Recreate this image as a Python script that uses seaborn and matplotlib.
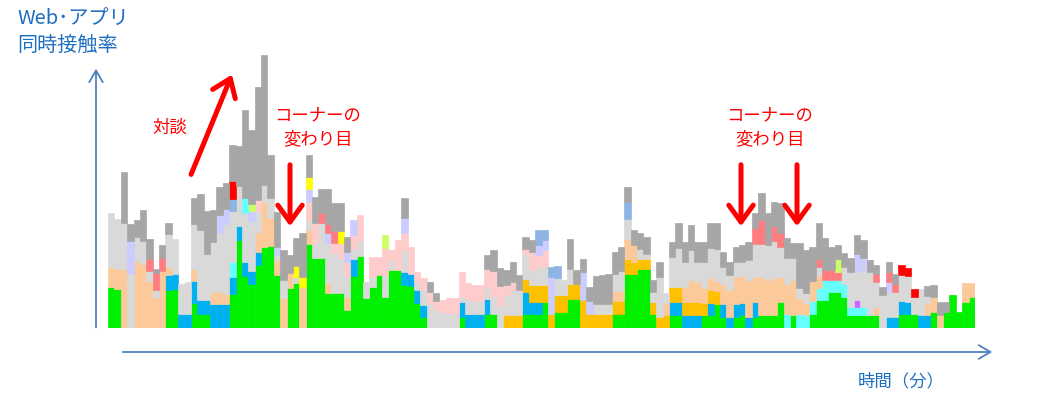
import matplotlib
matplotlib.use("Agg")
import matplotlib.pyplot as plt
import seaborn as sns
import pandas as pd

# segment heights per one-minute bin, bottom -> top (chart units)
green = [41, 39, 0, 0, 0, 0, 0, 0, 0, 38,
         39, 0, 0, 25, 14, 14, 0, 0, 0, 34,
         88, 52, 44, 63, 81, 82, 53, 0, 40, 45,
         0, 84, 70, 70, 35, 35, 35, 18, 52, 72,
         30, 41, 53, 31, 58, 58, 43, 42, 25, 11,
         0, 0, 0, 0, 0, 11, 0, 0, 0, 14,
         14, 0, 0, 0, 0, 14, 14, 14, 26, 0,
         16, 16, 29, 29, 0, 0, 0, 0, 0, 14,
         14, 54, 54, 59, 59, 14, 0, 0, 13, 13,
         0, 0, 0, 13, 13, 24, 11, 0, 11, 13,
         0, 11, 13, 13, 13, 26, 0, 13, 0, 0,
         14, 28, 28, 36, 36, 31, 13, 13, 13, 13,
         13, 0, 0, 0, 14, 14, 14, 0, 0, 16,
         0, 16, 33, 16, 26, 31]
blue = [0, 0, 0, 0, 0, 0, 0, 0, 0, 15,
        15, 14, 14, 22, 14, 14, 24, 24, 24, 17,
        14, 14, 13, 13, 0, 0, 0, 0, 0, 0,
        0, 0, 0, 0, 0, 0, 0, 0, 17, 0,
        0, 0, 0, 0, 0, 0, 13, 12, 13, 12,
        0, 0, 0, 0, 0, 15, 14, 14, 14, 15,
        0, 0, 0, 0, 0, 22, 12, 12, 0, 0,
        0, 0, 0, 0, 0, 0, 0, 0, 0, 0,
        0, 0, 0, 0, 0, 0, 0, 0, 13, 13,
        13, 13, 13, 0, 12, 0, 13, 11, 13, 12,
        11, 15, 0, 0, 0, 0, 0, 0, 0, 0,
        0, 0, 0, 0, 0, 0, 0, 0, 0, 0,
        0, 0, 11, 11, 13, 12, 0, 13, 13, 0,
        0, 0, 0, 0, 0, 0]
orange = [0] * 62 + [13, 13, 13, 13, 17, 17, 17, 14,
                     17, 17, 15, 15, 28, 14, 14, 14, 14, 13,
                     13, 15, 12, 10, 10, 12, 11, 13, 15, 15,
                     13, 13, 13, 12, 13, 13] + [0] * 40
peach = [20, 20, 59, 0, 67, 64, 47, 30, 57, 8,
         0, 0, 0, 12, 0, 0, 12, 12, 10, 0,
         0, 0, 0, 20, 45, 28, 15, 30, 15, 0,
         41, 14, 0, 0, 10, 0, 0, 13, 0, 0,
         0, 0, 0, 0, 0, 0, 0, 0, 0, 0,
         0, 0, 0, 0, 0, 0, 0, 0, 0, 0,
         0, 0, 0, 0, 0, 0, 0, 0, 0, 0,
         0, 0, 0, 0, 0, 0, 0, 0, 0, 10,
         10, 20, 17, 0, 0, 0, 0, 12, 0, 0,
         15, 22, 20, 15, 12, 10, 20, 27, 27, 27,
         37, 25, 38, 35, 37, 25, 30, 35, 16, 12,
         20, 12, 0, 0, 0, 0, 0, 0, 0, 0,
         8, 0, 0, 0, 0, 0, 0, 0, 11, 15,
         13, 0, 0, 0, 19, 14]
lgray = [54, 50, 46, 54, 24, 23, 10, 8, 0, 33,
         35, 30, 32, 45, 70, 46, 50, 60, 70, 51,
         40, 49, 50, 20, 17, 20, 5, 18, 0, 6,
         0, 10, 15, 35, 40, 40, 35, 20, 10, 15,
         16, 10, 0, 22, 10, 0, 22, 0, 8, 15,
         25, 18, 16, 15, 15, 5, 15, 13, 13, 12,
         18, 22, 20, 25, 25, 25, 15, 18, 18, 0,
         17, 15, 15, 0, 0, 0, 10, 10, 10, 17,
         20, 20, 0, 10, 5, 10, 40, 10, 30, 39,
         25, 30, 20, 26, 30, 32, 17, 15, 15, 14,
         20, 33, 33, 35, 37, 30, 26, 22, 10, 10,
         0, 9, 0, 0, 0, 17, 35, 28, 37, 43,
         25, 33, 25, 25, 26, 26, 17, 26, 8, 0,
         0, 0, 0, 0, 0, 0]
pink = [0] * 23 + [12, 0, 0, 0, 0, 0, 0,
                   0, 18, 20, 0, 0, 10, 15, 15, 14, 26,
                   0, 20, 18, 27, 10, 30, 17, 27, 10, 12,
                   11, 9, 12, 15, 15, 25, 16, 16, 16, 18,
                   25, 20, 10, 8, 0, 5, 18, 12, 17] + [0] * 67
gray = [0, 0, 51, 17, 17, 31, 20, 4, 13, 11,
        0, 0, 0, 26, 36, 43, 32, 28, 26, 36,
        40, 88, 74, 113, 130, 43, 35, 30, 18, 28,
        44, 22, 26, 24, 35, 28, 28, 15, 0, 0,
        0, 0, 0, 0, 0, 0, 20, 0, 0, 0,
        10, 8, 0, 0, 0, 0, 0, 0, 0, 14,
        21, 18, 15, 20, 15, 12, 12, 0, 0, 0,
        0, 0, 30, 14, 13, 14, 28, 29, 30, 22,
        24, 15, 15, 16, 17, 12, 15, 0, 15, 25,
        20, 25, 20, 20, 25, 26, 15, 13, 15, 17,
        18, 15, 27, 32, 24, 30, 20, 15, 45, 43,
        34, 36, 32, 23, 14, 14, 14, 19, 18, 12,
        9, 8, 10, 10, 0, 0, 0, 0, 10, 12,
        13, 10, 0, 0, 0, 0]

# sparse layers {bin: height}
cyan = {19: 15, 106: 14, 108: 14, 109: 13, 110: 13, 111: 12, 112: 20,
        113: 12, 114: 12, 115: 13, 116: 8, 117: 8, 118: 8}
purple = {117: 7}
lavender = {3: 33, 17: 17, 18: 15, 22: 10, 26: 8, 31: 13, 34: 10, 37: 10,
            38: 15, 46: 15, 67: 10, 68: 10, 69: 37, 74: 28, 75: 13,
            117: 18, 118: 12, 122: 10}
salmon = {6: 12, 7: 17, 8: 13, 33: 10, 34: 9, 35: 12, 101: 16, 102: 24,
          104: 15, 105: 14, 111: 8, 112: 10, 113: 10, 114: 8, 120: 8,
          122: 10, 123: 8}
lime = {22: 7, 43: 13, 114: 13}
yellow = {29: 11, 30: 10, 31: 12, 36: 12}
steel = {19: 12, 67: 15, 68: 10, 69: 10, 70: 12, 81: 17}
red = {19: 18, 124: 10, 125: 8, 126: 8}
cyan_hi = {21: 15}

colors = {
    "green": "#00F000", "blue": "#00B0F0", "orange": "#FFC000",
    "cyan": "#66FFFF", "purple": "#CC66FF", "peach": "#FCC99B",
    "lgray": "#D9D9D9", "pink": "#FFCCCC", "lavender": "#CCCCFF",
    "salmon": "#FF7C80", "lime": "#CCFF66", "yellow": "#FFFF00",
    "steel": "#8DB4E2", "red": "#FF0000", "cyan_hi": "#66FFFF",
    "gray": "#A6A6A6",
}

n = len(green)
bottom_up = [
    ("green", green), ("blue", blue), ("orange", orange), ("cyan", cyan),
    ("purple", purple), ("peach", peach), ("lgray", lgray), ("pink", pink),
    ("lavender", lavender), ("salmon", salmon), ("lime", lime),
    ("yellow", yellow), ("steel", steel), ("red", red),
    ("cyan_hi", cyan_hi), ("gray", gray),
]

rows = []
for name, vals in bottom_up:
    if isinstance(vals, dict):
        vals = [vals.get(i, 0) for i in range(n)]
    for i, v in enumerate(vals):
        rows.append({"minute": i, "layer": name, "value": v})
df = pd.DataFrame(rows)

sns.set_theme(style="white")
plt.rcParams["font.family"] = ["Noto Sans CJK JP", "DejaVu Sans"]

W, H = 1062, 405
fig = plt.figure(figsize=(W / 100, H / 100), dpi=100)
ax = fig.add_axes([108 / W, 77 / H, 867 / W, 290 / H])

# seaborn stacks the first hue level on top
hue_order = [name for name, _ in bottom_up][::-1]
sns.histplot(data=df, x="minute", weights="value", hue="layer",
             hue_order=hue_order, palette=colors, multiple="stack",
             discrete=True, shrink=1, element="bars", alpha=1,
             linewidth=0, legend=False, ax=ax)
for p in ax.patches:
    if p.get_height() <= 0:
        p.set_visible(False)
    else:
        p.set_edgecolor(p.get_facecolor())
        p.set_linewidth(0.5)

ax.set_xlim(-0.5, n - 0.5)
ax.set_ylim(0, 290)
ax.set_axis_off()

# overlay in pixel coordinates for arrows and labels
ov = fig.add_axes([0, 0, 1, 1])
ov.set_xlim(0, W)
ov.set_ylim(H, 0)
ov.set_axis_off()
ov.patch.set_alpha(0)

axis_c = "#4F81BD"
txt_c = "#1F6FC0"
ov.annotate("", xy=(96, 66), xytext=(96, 330),
            arrowprops=dict(arrowstyle="->,head_length=0.6,head_width=0.35",
                            color=axis_c, lw=1.3, mutation_scale=14))
ov.annotate("", xy=(995, 352), xytext=(120, 352),
            arrowprops=dict(arrowstyle="->,head_length=0.6,head_width=0.35",
                            color=axis_c, lw=1.3, mutation_scale=14))

ov.text(17, 19, "Web･アプリ", color=txt_c, fontsize=14.5, va="center", ha="left")
ov.text(17, 45, "同時接触率", color=txt_c, fontsize=14.5, va="center", ha="left")
ov.text(858, 381, "時間（分）", color=txt_c, fontsize=12.5, va="center", ha="left")

red_c = "#FF0000"
arrow_kw = dict(arrowstyle="->,head_length=0.55,head_width=0.4",
                color=red_c, lw=3.6, mutation_scale=22)
ov.annotate("", xy=(233, 72), xytext=(190, 177), arrowprops=arrow_kw)
ov.annotate("", xy=(290, 229), xytext=(290, 162), arrowprops=arrow_kw)
ov.annotate("", xy=(741, 229), xytext=(741, 162), arrowprops=arrow_kw)
ov.annotate("", xy=(797, 229), xytext=(797, 162), arrowprops=arrow_kw)

ov.text(170, 128, "対談", color=red_c, fontsize=12.5, ha="center", va="center")
for cx in (318, 770):
    ov.text(cx, 115, "コーナーの", color=red_c, fontsize=12.5, ha="center", va="center")
    ov.text(cx, 139, "変わり目", color=red_c, fontsize=12.5, ha="center", va="center")

fig.savefig("out.png", dpi=100)
